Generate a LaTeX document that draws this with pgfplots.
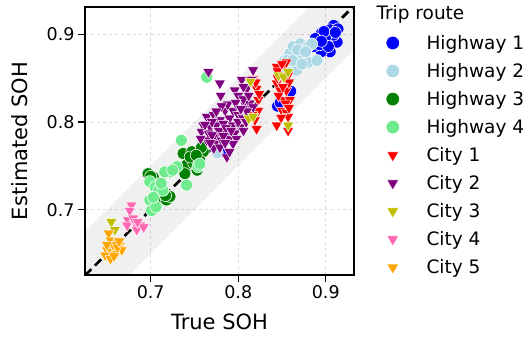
\documentclass[border=0pt]{standalone}
\usepackage{pgfplots}
\pgfplotsset{compat=1.18}
\usepackage{fontspec}
\setmainfont{DejaVu Sans}
\definecolor{hw1}{RGB}{0,0,255}
\definecolor{hw2}{RGB}{173,216,230}
\definecolor{hw3}{RGB}{0,128,0}
\definecolor{hw4}{RGB}{110,235,140}
\definecolor{c1}{RGB}{255,0,0}
\definecolor{c2}{RGB}{128,0,128}
\definecolor{c3}{RGB}{191,191,0}
\definecolor{c4}{RGB}{255,105,180}
\definecolor{c5}{RGB}{255,165,0}
\definecolor{gridc}{RGB}{220,220,220}
\begin{document}
\begin{tikzpicture}
\path[use as bounding box] (-85pt,-66pt) rectangle (445pt,275pt);
\begin{axis}[
  at={(0,0)}, anchor=south west,
  scale only axis, width=269pt, height=268pt,
  xmin=0.6249, xmax=0.9323, ymin=0.6255, ymax=0.931,
  xtick={0.7,0.8,0.9}, ytick={0.7,0.8,0.9},
  xticklabels={0.7,0.8,0.9}, yticklabels={0.7,0.8,0.9},
  xtick pos=left, ytick pos=left,
  tick align=outside, major tick length=7pt,
  tick style={black, line width=1.2pt},
  axis line style={black, line width=1.4pt},
  grid=major, major grid style={gridc, dashed, line width=0.8pt},
  ticklabel style={font=\fontsize{17.5}{20}\selectfont},
  /pgf/number format/assume math mode=true,
  label style={font=\fontsize{21}{24}\selectfont},
  xlabel={True SOH}, ylabel={Estimated SOH},
  xlabel style={yshift=-8pt},
  ylabel style={yshift=12pt},
  legend style={at={(1.107,0.903)}, anchor=north west, draw=none, fill=none,
    font=\fontsize{18.5}{21}\selectfont, row sep=12.5pt, column sep=27pt,
    nodes={inner sep=0pt}},
  legend cell align=left,
  legend image code/.code={\draw[#1, mark size=6.8pt] plot coordinates {(0pt,0pt)};},
]
\addplot[fill=black, fill opacity=0.06, draw=none, forget plot] coordinates {(0.55,0.50) (1.0,0.95) (1.0,1.05) (0.55,0.60)} -- cycle;

\addplot[only marks, mark=*, mark size=6pt, color=hw1, mark options={fill=hw1, draw=white, line width=0.6pt}] coordinates {
(0.845,0.818) (0.848,0.822) (0.860,0.835) (0.852,0.866) (0.782,0.766)
(0.909,0.910) (0.905,0.905) (0.913,0.891) (0.901,0.893) (0.895,0.901)
(0.890,0.889) (0.905,0.880) (0.895,0.880) (0.909,0.899) (0.914,0.906)
(0.886,0.886) (0.900,0.897) (0.893,0.888) (0.898,0.903) (0.903,0.886)
(0.888,0.895) (0.911,0.902) (0.895,0.892)};
\addlegendentry{Highway 1}
\addplot[only marks, mark=*, mark size=6pt, color=hw2, mark options={fill=hw2, draw=white, line width=0.6pt}] coordinates {
(0.853,0.870) (0.859,0.864) (0.859,0.878) (0.863,0.886) (0.871,0.889)
(0.875,0.876) (0.867,0.859) (0.870,0.872) (0.880,0.868) (0.890,0.870)
(0.880,0.886) (0.884,0.889) (0.776,0.765) (0.850,0.862) (0.856,0.870)
(0.862,0.870) (0.868,0.882) (0.877,0.880) (0.873,0.866)};
\addlegendentry{Highway 2}
\addplot[only marks, mark=*, mark size=6pt, color=hw3, mark options={fill=hw3, draw=white, line width=0.6pt}] coordinates {
(0.737,0.764) (0.747,0.766) (0.760,0.766) (0.756,0.756) (0.741,0.751)
(0.749,0.753) (0.753,0.745) (0.739,0.741) (0.697,0.741) (0.703,0.737)
(0.713,0.713) (0.718,0.711) (0.722,0.715) (0.758,0.771) (0.714,0.722)
(0.745,0.760) (0.752,0.762) (0.700,0.738) (0.717,0.716)};
\addlegendentry{Highway 3}
\addplot[only marks, mark=*, mark size=6pt, color=hw4, mark options={fill=hw4, draw=white, line width=0.6pt}] coordinates {
(0.764,0.851) (0.735,0.779) (0.722,0.743) (0.716,0.743) (0.754,0.749)
(0.699,0.732) (0.705,0.726) (0.709,0.722) (0.714,0.722) (0.699,0.711)
(0.701,0.699) (0.706,0.703) (0.741,0.728) (0.730,0.749) (0.756,0.752)
(0.712,0.730) (0.703,0.714) (0.725,0.745)};
\addlegendentry{Highway 4}
\addplot[only marks, mark=triangle*, mark size=6.5pt, color=c1, mark options={rotate=180, fill=c1, draw=white, line width=0.5pt}] coordinates {
(0.817,0.849) (0.821,0.838) (0.823,0.825) (0.823,0.813) (0.819,0.802)
(0.821,0.792) (0.844,0.863) (0.853,0.865) (0.855,0.868) (0.850,0.853)
(0.857,0.853) (0.844,0.844) (0.848,0.836) (0.855,0.836) (0.852,0.825)
(0.859,0.825) (0.850,0.813) (0.855,0.811) (0.857,0.806) (0.844,0.796)
(0.857,0.790) (0.854,0.821) (0.845,0.858) (0.850,0.866) (0.858,0.845)
(0.851,0.840) (0.846,0.830) (0.858,0.816) (0.849,0.805) (0.820,0.845)
(0.824,0.832) (0.816,0.808) (0.845,0.850)};
\addlegendentry{City 1}
\addplot[only marks, mark=triangle*, mark size=6.5pt, color=c2, mark options={rotate=180, fill=c2, draw=white, line width=0.5pt}] coordinates {
(0.766,0.857) (0.779,0.844) (0.817,0.859) (0.804,0.848) (0.815,0.848)
(0.810,0.838) (0.796,0.836) (0.800,0.830) (0.785,0.813) (0.794,0.813)
(0.808,0.819) (0.813,0.821) (0.764,0.806) (0.772,0.808) (0.779,0.802)
(0.790,0.804) (0.800,0.808) (0.760,0.796) (0.768,0.794) (0.775,0.796)
(0.783,0.798) (0.794,0.796) (0.802,0.794) (0.758,0.789) (0.766,0.787)
(0.775,0.783) (0.787,0.787) (0.796,0.787) (0.806,0.790) (0.764,0.779)
(0.773,0.775) (0.781,0.779) (0.790,0.781) (0.798,0.781) (0.772,0.770)
(0.779,0.771) (0.787,0.760) (0.794,0.775) (0.817,0.817) (0.806,0.826)
(0.770,0.800) (0.778,0.790) (0.786,0.793) (0.792,0.790) (0.800,0.800)
(0.805,0.805) (0.810,0.812) (0.788,0.820) (0.781,0.818) (0.797,0.822)
(0.803,0.815) (0.775,0.812) (0.762,0.797) (0.770,0.785) (0.783,0.784)
(0.809,0.800) (0.812,0.830) (0.806,0.840) (0.785,0.776) (0.768,0.776)
(0.757,0.781) (0.790,0.766) (0.780,0.830)};
\addlegendentry{City 2}
\addplot[only marks, mark=triangle*, mark size=6.5pt, color=c3, mark options={rotate=180, fill=c3, draw=white, line width=0.5pt}] coordinates {
(0.814,0.846) (0.812,0.804) (0.817,0.806) (0.846,0.853) (0.852,0.851)
(0.857,0.857) (0.857,0.796) (0.655,0.686) (0.659,0.677)};
\addlegendentry{City 3}
\addplot[only marks, mark=triangle*, mark size=6.5pt, color=c4, mark options={rotate=180, fill=c4, draw=white, line width=0.5pt}] coordinates {
(0.678,0.705) (0.676,0.699) (0.674,0.688) (0.673,0.682) (0.682,0.684)
(0.688,0.682) (0.684,0.677) (0.692,0.680) (0.680,0.690) (0.685,0.686)};
\addlegendentry{City 4}
\addplot[only marks, mark=triangle*, mark size=6.5pt, color=c5, mark options={rotate=180, fill=c5, draw=white, line width=0.5pt}] coordinates {
(0.652,0.673) (0.654,0.665) (0.663,0.663) (0.665,0.659) (0.659,0.656)
(0.650,0.654) (0.655,0.652) (0.648,0.648) (0.661,0.650) (0.667,0.654)
(0.654,0.644) (0.657,0.660) (0.662,0.657) (0.650,0.660) (0.658,0.647)
(0.664,0.664)};
\addlegendentry{City 5}

\addplot[black, line width=2.7pt, dash pattern=on 9pt off 5pt, forget plot] coordinates {(0.6249,0.6249) (0.9323,0.9323)};
\end{axis}
\node[anchor=base west, font=\fontsize{18.5}{21}\selectfont] at (288pt,256pt) {Trip route};
\end{tikzpicture}
\end{document}
